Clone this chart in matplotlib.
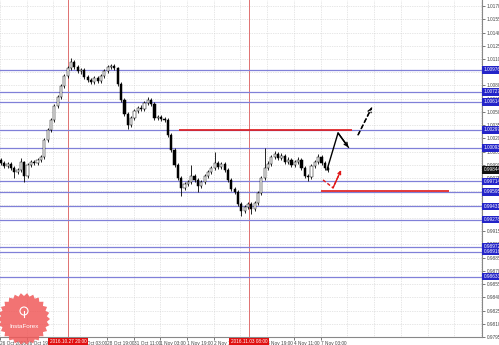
import matplotlib
matplotlib.use('Agg')
import matplotlib.pyplot as plt
from matplotlib.patches import Polygon, Circle
import numpy as np

# ---------------- data ----------------
closes = [0.99923, 0.99889, 0.99912, 0.99866, 0.99821, 0.99844, 0.99934, 0.99776, 0.99900, 0.99934,
          0.99923, 0.99957, 0.99991, 1.00183, 1.00296, 1.00410, 1.00568, 1.00670, 1.00794, 1.00908,
          1.00998, 1.01066, 1.01010, 1.00964, 1.00976, 1.00896, 1.00862, 1.00840, 1.00885, 1.00851,
          1.00908, 1.00964, 1.01010, 1.01021, 1.00998, 1.00817, 1.00636, 1.00478, 1.00353, 1.00432,
          1.00512, 1.00546, 1.00534, 1.00602, 1.00636, 1.00591, 1.00432, 1.00444, 1.00421, 1.00410,
          1.00240, 1.00070, 0.99900, 0.99753, 0.99640, 0.99685, 0.99708, 0.99776, 0.99730, 0.99663,
          0.99708, 0.99776, 0.99821, 0.99866, 0.99923, 0.99878, 0.99912, 0.99844, 0.99730, 0.99629,
          0.99595, 0.99459, 0.99380, 0.99425, 0.99459, 0.99402, 0.99470, 0.99583, 0.99753, 0.99866,
          0.99912, 0.99991, 1.00025, 0.99980, 1.00002, 0.99934, 0.99957, 0.99900, 0.99934, 0.99957,
          0.99866, 0.99776, 0.99764, 0.99889, 0.99934, 0.99991, 0.99923, 0.99866, 0.99844]
highs = [0.99980, 0.99946, 0.99935, 0.99935, 0.99889, 0.99866, 0.99980, 0.99946, 0.99923, 0.99957,
         0.99957, 0.99980, 1.00014, 1.00206, 1.00319, 1.00432, 1.00591, 1.00693, 1.00817, 1.00930,
         1.01021, 1.01111, 1.01089, 1.01032, 1.00998, 1.00998, 1.00919, 1.00885, 1.00908, 1.00908,
         1.00930, 1.00987, 1.01032, 1.01044, 1.01044, 1.01010, 1.00840, 1.00659, 1.00500, 1.00455,
         1.00534, 1.00568, 1.00579, 1.00625, 1.00670, 1.00659, 1.00613, 1.00466, 1.00466, 1.00444,
         1.00432, 1.00262, 1.00093, 0.99923, 0.99776, 0.99708, 0.99730, 0.99900, 0.99798, 0.99753,
         0.99730, 0.99798, 0.99844, 0.99889, 1.00047, 0.99946, 0.99935, 0.99935, 0.99866, 0.99753,
         0.99651, 0.99617, 0.99481, 0.99448, 0.99481, 0.99481, 0.99493, 0.99606, 0.99776, 1.00093,
         0.99946, 1.00014, 1.00059, 1.00047, 1.00036, 1.00025, 0.99991, 0.99980, 0.99957, 0.99991,
         0.99980, 0.99889, 0.99798, 0.99912, 0.99957, 1.00025, 1.00014, 0.99946, 0.99889]
lows = [0.99900, 0.99866, 0.99866, 0.99844, 0.99753, 0.99798, 0.99821, 0.99708, 0.99753, 0.99878,
        0.99900, 0.99900, 0.99935, 0.99969, 1.00161, 1.00274, 1.00387, 1.00546, 1.00647, 1.00771,
        1.00885, 1.00976, 1.00987, 1.00942, 1.00930, 1.00874, 1.00840, 1.00817, 1.00817, 1.00829,
        1.00829, 1.00885, 1.00942, 1.00987, 1.00976, 1.00794, 1.00613, 1.00455, 1.00308, 1.00330,
        1.00410, 1.00489, 1.00512, 1.00512, 1.00579, 1.00568, 1.00410, 1.00410, 1.00398, 1.00387,
        1.00217, 1.00047, 0.99878, 0.99730, 0.99549, 0.99617, 0.99663, 0.99685, 0.99708, 0.99595,
        0.99640, 0.99685, 0.99753, 0.99798, 0.99844, 0.99855, 0.99855, 0.99821, 0.99708, 0.99606,
        0.99572, 0.99436, 0.99323, 0.99357, 0.99402, 0.99346, 0.99380, 0.99448, 0.99561, 0.99730,
        0.99844, 0.99889, 0.99969, 0.99957, 0.99957, 0.99912, 0.99912, 0.99878, 0.99878, 0.99912,
        0.99844, 0.99753, 0.99719, 0.99742, 0.99866, 0.99912, 0.99900, 0.99844, 0.99821]
first_open = 0.99957
opens = [first_open] + closes[:-1]
bars_per_candle = 2

x_tick_labels = ["26 Oct 2016", "26 Oct 19:00", "27 Oct 11:00", "28 Oct 03:00", "28 Oct 19:00",
                 "31 Oct 11:00", "1 Nov 03:00", "1 Nov 19:00", "2 Nov 11:00", "3 Nov 03:00",
                 "3 Nov 19:00", "4 Nov 11:00", "7 Nov 03:00"]
bars_per_label = 16

y_tick_start = 0.97950
y_tick_step = 0.00150
y_tick_count = 26

blue_levels = [1.00976, 1.00727, 1.00614, 1.00297, 1.00093, 0.99714, 0.99595, 0.99431,
               0.99278, 0.98972, 0.98916, 0.98633]

red_resistance = 1.00297
red_resistance_bars = [107, 211]
red_support = 0.99600
red_support_bars = [192, 269]

vline_bars = [40.7, 149]
vline_labels = ["2016.10.27 20:00", "2016.11.03 08:00"]

fc_black_solid_x = [195.8, 202.4, 208.6]
fc_black_solid_y = [0.99844, 1.00262, 1.00100]
fc_black_dash_x = [214.4, 222.6]
fc_black_dash_y = [1.00240, 1.00550]
fc_red_x = [193.4, 199.4, 204.2]
fc_red_y = [0.99730, 0.99640, 0.99840]

# ---------------- figure ----------------
W, H = 499, 345
fig = plt.figure(figsize=(W / 100, H / 100), dpi=100)
fig.patch.set_facecolor('white')
ax = fig.add_axes([0, 8 / H, 482 / W, 337 / H])
ax.set_facecolor('white')

ylo = y_tick_start
yhi = y_tick_start + 337.3 / 13.25 * y_tick_step
ax.set_ylim(ylo, yhi)
ax.set_xlim(0, 288.6)

font = ['Liberation Sans Narrow', 'Liberation Sans', 'DejaVu Sans']
fs = 3.4

# grid
yt = [y_tick_start + i * y_tick_step for i in range(y_tick_count)]
xt = [i * bars_per_label for i in range(len(x_tick_labels))]
xt_grid = [i * bars_per_label for i in range(19)]
ax.set_yticks(yt)
ax.set_yticklabels([f"{v:.5f}" for v in yt])
ax.set_xticks(xt)
ax.set_xticklabels(x_tick_labels)
for v in yt:
    ax.axhline(v, color='#cfcfcf', lw=0.5, ls=(0, (1, 1.5)), zorder=0)
for v in xt_grid:
    ax.axvline(v, color='#cfcfcf', lw=0.5, ls=(0, (1, 1.5)), zorder=0)

ax.yaxis.tick_right()
ax.tick_params(axis='y', length=2, width=0.5, pad=1.5, labelsize=fs, colors='#444444')
ax.tick_params(axis='x', length=2, width=0.5, pad=1.0, labelsize=fs, colors='#444444')
for lbl in ax.get_xticklabels():
    lbl.set_ha('left')
    lbl.set_family(font)
for lbl in ax.get_yticklabels():
    lbl.set_family(font)

for s in ['left', 'top']:
    ax.spines[s].set_visible(False)
for s in ['right', 'bottom']:
    ax.spines[s].set_color('#888888')
    ax.spines[s].set_linewidth(0.8)

# vertical red separators
for vb in vline_bars:
    ax.axvline(vb, color='#e07070', lw=0.7, zorder=1)

# blue levels
for lv in blue_levels:
    ax.axhline(lv, color='#8080d8', lw=0.9, zorder=2)

# red support / resistance
ax.plot(red_resistance_bars, [red_resistance] * 2, color='#e01818', lw=1.2, zorder=3, solid_capstyle='butt')
ax.plot(red_support_bars, [red_support] * 2, color='#e01818', lw=1.2, zorder=3, solid_capstyle='butt')

# candles
xs = [bars_per_candle * k + 0.5 for k in range(len(closes))]
ax.vlines(xs, lows, highs, color='black', lw=0.6, zorder=4)
for x, o, c in zip(xs, opens, closes):
    bottom = min(o, c)
    h = max(abs(c - o), 0.00003)
    fcol = 'white' if c >= o else 'black'
    ax.bar(x, h, bottom=bottom, width=1.3, color=fcol, edgecolor='black', lw=0.35, zorder=5)

# forecast paths
ax.plot(fc_black_solid_x, fc_black_solid_y, color='black', lw=1.0, zorder=6)
ax.annotate('', xy=(fc_black_solid_x[-1], fc_black_solid_y[-1]),
            xytext=(fc_black_solid_x[-2], fc_black_solid_y[-2]),
            arrowprops=dict(arrowstyle='->', color='black', lw=1.0, mutation_scale=6, shrinkA=0, shrinkB=0),
            zorder=6)
ax.plot(fc_black_dash_x, fc_black_dash_y, color='black', lw=1.0, ls=(0, (3, 2)), zorder=6)
ax.annotate('', xy=(fc_black_dash_x[-1], fc_black_dash_y[-1]),
            xytext=(fc_black_dash_x[0], fc_black_dash_y[0]),
            arrowprops=dict(arrowstyle='->', color='black', lw=1.0, mutation_scale=6, shrinkA=0, shrinkB=0,
                            linestyle=(0, (3, 2))),
            zorder=6)
ax.plot(fc_red_x, fc_red_y, color='#e01818', lw=1.0, ls=(0, (2.5, 1.5)), zorder=6)
ax.annotate('', xy=(fc_red_x[-1], fc_red_y[-1]), xytext=(fc_red_x[-2], fc_red_y[-2]),
            arrowprops=dict(arrowstyle='->', color='#e01818', lw=1.0, mutation_scale=5, shrinkA=0, shrinkB=0),
            zorder=6)

# right-side level labels
ytr = ax.get_yaxis_transform()
for lv in blue_levels:
    ax.text(1.003, lv, f"{lv:.5f}", transform=ytr, fontsize=fs, color='white', family=font,
            va='center', ha='left', clip_on=False, zorder=10,
            bbox=dict(boxstyle='square,pad=0.25', fc='#2424c8', ec='none'))
ax.text(1.003, closes[-1], f"{closes[-1]:.5f}", transform=ytr, fontsize=fs, color='white', family=font,
        va='center', ha='left', clip_on=False, zorder=10,
        bbox=dict(boxstyle='square,pad=0.25', fc='#111111', ec='none'))

# bottom red labels for separators
xtr = ax.get_xaxis_transform()
for vb, lab in zip(vline_bars, vline_labels):
    ax.text(vb, -0.006, lab, transform=xtr, fontsize=fs, color='white', family=font,
            va='top', ha='center', clip_on=False, zorder=10,
            bbox=dict(boxstyle='square,pad=0.3', fc='#e01010', ec='none'))

# watermark (InstaForex)
wax = fig.add_axes([0, 0, 1, 1], zorder=20)
wax.set_xlim(0, W)
wax.set_ylim(H, 0)
wax.axis('off')
cx, cy, ro, ri, n = 24, 319, 26, 23, 26
ang = np.linspace(0, 2 * np.pi, 2 * n, endpoint=False)
rad = np.where(np.arange(2 * n) % 2 == 0, ro, ri)
star = Polygon(np.column_stack([cx + rad * np.cos(ang), cy + rad * np.sin(ang)]),
               closed=True, fc='#f05a5a', ec='none', alpha=0.85)
wax.add_patch(star)
wax.add_patch(Circle((cx, cy - 8), 4, fc='none', ec='white', lw=0.8))
wax.plot([cx, cx], [cy - 8, cy - 2], color='white', lw=0.8)
wax.text(cx, cy + 7, "InstaForex", color='white', fontsize=4.5, ha='center', va='center', family=font)

fig.savefig('out.png', dpi=100)
